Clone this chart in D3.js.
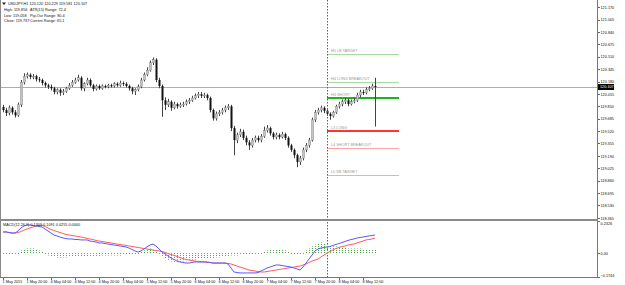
<!DOCTYPE html>
<html>
<head>
<meta charset="utf-8">
<script src="https://cdn.jsdelivr.net/npm/d3@7"></script>
<style>
    body { margin: 0; background: #fff; }
    text { font-family: "Liberation Sans", Arial, sans-serif; }
    .axis path, .axis line { fill: none; stroke: #666; shape-rendering: crispEdges; }
    .axis text { font-size: 3.8px; fill: #111; }
    .lbl { font-size: 3.8px; fill: #111; }
    .lvl { font-size: 3.8px; fill: #999; }
</style>
</head>
<body>
<div id="chart"></div>
<script>
// ---- data ----
var xTickBars = [0, 8, 16, 24, 32, 40, 48, 56, 64, 72, 80, 88, 96, 104, 112, 120];
var xTickLabels = ["1 May 2015", "1 May 20:00", "4 May 04:00", "4 May 12:00", "4 May 20:00",
    "5 May 04:00", "5 May 12:00", "5 May 20:00", "6 May 04:00", "6 May 12:00", "6 May 20:00",
    "7 May 04:00", "7 May 12:00", "7 May 20:00", "8 May 04:00", "8 May 12:00"];
var priceTicks = [121.170, 121.005, 120.840, 120.675, 120.510, 120.345, 120.180, 120.015, 119.850,
    119.685, 119.520, 119.355, 119.190, 119.025, 118.860, 118.695, 118.530, 118.365];
var macdTicks = [0.2326, 0, -0.1744];
var lastPrice = 120.107;
var dayStartBar = 108;
var levelEndBar = 132;

var opens = [119.84,119.80,119.76,119.83,119.77,119.73,119.87,120.17,120.25,120.27,120.24,120.25,120.21,120.20,120.16,120.13,
    120.11,120.09,120.04,120.07,120.03,120.05,120.09,120.13,120.17,120.20,120.23,120.09,120.15,120.20,120.13,120.08,
    120.12,120.09,120.12,120.11,120.13,120.12,120.15,120.13,120.16,120.15,120.12,120.09,120.05,120.07,120.11,120.20,
    120.27,120.33,120.43,120.47,120.20,120.12,119.93,119.87,119.91,119.83,119.88,119.85,119.87,119.88,119.91,119.93,
    119.96,119.99,120.01,119.99,120.00,119.96,119.80,119.69,119.75,119.77,119.80,119.83,119.85,119.56,119.40,119.47,
    119.51,119.43,119.37,119.33,119.40,119.43,119.40,119.45,119.53,119.56,119.49,119.44,119.47,119.44,119.48,119.43,
    119.33,119.27,119.20,119.11,119.16,119.27,119.33,119.40,119.67,119.77,119.80,119.83,119.79,119.75,119.72,119.77,
    119.85,119.88,119.91,119.93,119.88,119.91,119.93,120.00,120.04,120.03,120.07,120.09,120.12];
var highs = [119.87,119.83,119.86,119.85,119.80,119.90,120.20,120.29,120.30,120.29,120.28,120.27,120.24,120.22,120.18,120.15,
    120.14,120.11,120.09,120.09,120.08,120.11,120.16,120.20,120.23,120.27,120.25,120.17,120.23,120.22,120.15,120.14,
    120.14,120.14,120.14,120.15,120.15,120.17,120.17,120.19,120.18,120.17,120.14,120.11,120.09,120.14,120.23,120.30,
    120.37,120.46,120.50,120.49,120.23,120.14,119.97,119.95,119.93,119.91,119.90,119.90,119.91,119.94,119.96,119.99,
    120.02,120.04,120.04,120.03,120.02,119.98,119.82,119.78,119.80,119.83,119.86,119.88,119.87,119.59,119.50,119.55,
    119.54,119.46,119.40,119.43,119.46,119.46,119.48,119.58,119.60,119.58,119.51,119.50,119.49,119.51,119.50,119.45,
    119.35,119.29,119.22,119.19,119.30,119.36,119.43,119.70,119.80,119.83,119.86,119.85,119.81,119.77,119.79,119.87,
    119.91,119.94,119.96,119.95,119.94,119.96,120.03,120.07,120.07,120.10,120.12,120.15,120.23];
var lows = [119.77,119.72,119.73,119.74,119.70,119.71,119.84,120.14,120.22,120.21,120.21,120.18,120.17,120.13,120.10,120.08,
    120.06,120.01,120.01,119.99,120.00,120.03,120.07,120.11,120.15,120.18,120.06,120.05,120.13,120.11,120.05,120.06,
    120.07,120.07,120.09,120.09,120.10,120.10,120.11,120.11,120.12,120.10,120.06,120.01,120.00,120.05,120.09,120.18,
    120.25,120.31,120.40,120.17,120.09,119.71,119.80,119.84,119.79,119.81,119.82,119.83,119.84,119.86,119.88,119.91,
    119.94,119.96,119.96,119.96,119.93,119.77,119.66,119.66,119.72,119.74,119.77,119.80,119.52,119.20,119.36,119.44,
    119.40,119.33,119.27,119.30,119.37,119.37,119.37,119.43,119.50,119.46,119.41,119.41,119.41,119.42,119.40,119.30,
    119.24,119.16,119.04,119.07,119.13,119.24,119.30,119.38,119.64,119.74,119.77,119.76,119.72,119.67,119.70,119.75,
    119.82,119.85,119.88,119.85,119.86,119.89,119.91,119.97,120.00,120.01,120.05,120.07,119.58];
var closes = [119.80,119.76,119.83,119.77,119.73,119.87,120.17,120.25,120.27,120.24,120.25,120.21,120.20,120.16,120.13,120.11,
    120.09,120.04,120.07,120.03,120.05,120.09,120.13,120.17,120.20,120.23,120.09,120.15,120.20,120.13,120.08,120.12,
    120.09,120.12,120.11,120.13,120.12,120.15,120.13,120.16,120.15,120.12,120.09,120.05,120.07,120.11,120.20,120.27,
    120.33,120.43,120.47,120.20,120.12,119.93,119.87,119.91,119.83,119.88,119.85,119.87,119.88,119.91,119.93,119.96,
    119.99,120.01,119.99,120.00,119.96,119.80,119.69,119.75,119.77,119.80,119.83,119.85,119.56,119.40,119.47,119.51,
    119.43,119.37,119.33,119.40,119.43,119.40,119.45,119.53,119.56,119.49,119.44,119.47,119.44,119.48,119.43,119.33,
    119.27,119.20,119.11,119.16,119.27,119.33,119.40,119.67,119.77,119.80,119.83,119.79,119.75,119.72,119.77,119.85,
    119.88,119.91,119.93,119.88,119.91,119.93,120.00,120.04,120.03,120.07,120.09,120.12,120.107];

var levelNames = ["H5 LB TARGET", "H4 LONG BREAKOUT", "H3 SHORT", "L3 LONG", "L4 SHORT BREAKOUT", "L5 SB TARGET"];
var levelValues = [120.540, 120.176, 119.956, 119.518, 119.298, 118.934];

var macdMain = [.153,.153,.149,.145,.145,.160,.182,.196,.204,.204,.200,.196,.193,.189,.175,.160,
    .145,.131,.124,.116,.109,.105,.102,.102,.098,.098,.095,.095,.095,.087,.084,.080,
    .073,.073,.069,.065,.062,.058,.055,.051,.047,.044,.036,.025,.015,.007,.015,.029,
    .044,.058,.065,.051,.029,.007,-.007,-.022,-.036,-.047,-.058,-.065,-.069,-.073,-.073,-.069,
    -.065,-.065,-.065,-.065,-.065,-.069,-.073,-.073,-.073,-.073,-.073,-.080,-.109,-.138,-.142,-.145,
    -.145,-.145,-.145,-.145,-.145,-.142,-.131,-.120,-.109,-.102,-.095,-.087,-.087,-.091,-.095,-.098,
    -.102,-.109,-.116,-.124,-.102,-.073,-.044,-.015,.015,.029,.036,.040,.044,.047,.055,.062,
    .069,.076,.084,.091,.098,.102,.109,.113,.116,.120,.124,.127,.131];
var macdSignal = [.153,.153,.149,.145,.145,.149,.156,.167,.175,.182,.189,.196,.200,.200,.193,.182,
    .171,.164,.156,.149,.142,.135,.131,.127,.124,.120,.116,.113,.105,.102,.098,.091,
    .087,.084,.080,.076,.073,.069,.065,.062,.058,.055,.051,.047,.044,.040,.036,.033,
    .029,.025,.022,.018,.015,.011,.004,-.004,-.011,-.018,-.025,-.033,-.040,-.047,-.051,-.055,
    -.058,-.062,-.065,-.065,-.069,-.069,-.073,-.073,-.073,-.073,-.073,-.076,-.080,-.087,-.095,-.102,
    -.109,-.116,-.124,-.127,-.131,-.135,-.138,-.138,-.135,-.131,-.127,-.124,-.120,-.116,-.113,-.109,
    -.105,-.102,-.098,-.095,-.087,-.080,-.069,-.058,-.051,-.044,-.029,-.015,0,.011,.022,.033,
    .040,.047,.051,.058,.062,.065,.073,.080,.087,.095,.098,.102,.109];
var macdHist = [-.004,-.004,-.004,-.004,-.004,-.004,.015,.022,.029,.029,.029,.022,.015,.007,-.007,-.015,
    -.022,-.025,-.029,-.029,-.029,-.029,-.025,-.025,-.022,-.022,-.022,-.022,-.022,-.018,-.018,-.018,
    -.018,-.015,-.015,-.015,-.015,-.015,-.015,-.015,-.011,-.011,-.011,-.011,-.011,-.007,.007,.015,
    .022,.029,.022,.007,-.007,-.022,-.036,-.051,-.058,-.065,-.065,-.065,-.058,-.058,-.051,-.044,
    -.044,-.036,-.036,-.036,-.036,-.036,-.033,-.029,-.029,-.025,-.022,-.022,-.015,-.015,-.015,-.011,
    -.011,-.007,-.007,-.007,-.004,-.004,-.004,.004,.015,.022,.022,.022,.022,.018,.015,.011,
    -.004,-.004,-.004,-.004,-.004,.015,.029,.044,.058,.065,.073,.065,.058,.051,.044,.044,
    .036,.036,.033,.029,.029,.029,.029,.029,.025,.025,.025,.025,.025];

var legendLeft = ["USDJPY,H1  120.120 120.229 119.581 120.107", "High: 119.856", "Low: 119.058", "Close: 119.737"];
var legendRight = ["", "ATR(15) Range: 72.4", "Pip-Out Range: 80.4", "Current Range: 65.1"];

// ---- layout ----
var W = 625, H = 285;
var plotRight = 597, mainBottom = 219, macdTop = 221, macdBottom = 277;

var svg = d3.select("#chart").append("svg")
    .attr("width", W).attr("height", H)
    .style("display", "block");

var x = d3.scaleLinear().domain([0, 124]).range([3, 375]);
var yMain = d3.scaleLinear().domain([118.350, 121.265]).range([mainBottom, 0]);
var yMacd = d3.scaleLinear().domain([-0.1744, 0.2326]).range([macdBottom, macdTop]);

svg.append("clipPath").attr("id", "clipMain")
    .append("rect").attr("x", 0).attr("y", 0).attr("width", plotRight).attr("height", mainBottom);
var main = svg.append("g").attr("clip-path", "url(#clipMain)");

// current price line
main.append("line")
    .attr("x1", 0).attr("x2", plotRight)
    .attr("y1", Math.round(yMain(lastPrice)) + 0.5).attr("y2", Math.round(yMain(lastPrice)) + 0.5)
    .attr("stroke", "#a6adbd").attr("stroke-width", 1);

// day-start separator
svg.append("line")
    .attr("x1", Math.round(x(dayStartBar)) + 0.5).attr("x2", Math.round(x(dayStartBar)) + 0.5)
    .attr("y1", 0).attr("y2", macdBottom)
    .attr("stroke", "#ff1a1a").attr("stroke-width", 1).attr("stroke-dasharray", "1.5,1.5");

// camarilla levels
var levelStroke = ["#a5dca5", "#a5dca5", "#1cb51c", "#f33", "#ffa8a8", "#ffa8a8"];
var levelWidth = [1, 1, 2, 2, 1, 1];
levelValues.forEach(function (v, i) {
    var yy = Math.round(yMain(v));
    main.append("line")
        .attr("x1", x(dayStartBar)).attr("x2", x(levelEndBar))
        .attr("y1", yy + (levelWidth[i] === 1 ? 0.5 : 0)).attr("y2", yy + (levelWidth[i] === 1 ? 0.5 : 0))
        .attr("stroke", levelStroke[i]).attr("stroke-width", levelWidth[i]);
    main.append("text").attr("class", "lvl")
        .attr("x", x(dayStartBar) + 4).attr("y", yy - 2)
        .text(levelNames[i]);
});

// candles
var bars = d3.range(opens.length);
var cg = main.append("g");
cg.selectAll("line.wick").data(bars).enter().append("line")
    .attr("class", "wick")
    .attr("x1", function (i) { return Math.round(x(i)) + 0.5; })
    .attr("x2", function (i) { return Math.round(x(i)) + 0.5; })
    .attr("y1", function (i) { return yMain(highs[i]); })
    .attr("y2", function (i) { return yMain(lows[i]); })
    .attr("stroke", "#444").attr("stroke-width", 1);
cg.selectAll("rect.body").data(bars).enter().append("rect")
    .attr("class", "body")
    .attr("x", function (i) { return Math.round(x(i)) - 0.5; })
    .attr("width", 2)
    .attr("y", function (i) { return yMain(Math.max(opens[i], closes[i])); })
    .attr("height", function (i) { return Math.max(1, Math.abs(yMain(opens[i]) - yMain(closes[i]))); })
    .attr("fill", function (i) { return closes[i] >= opens[i] ? "#c4c4c4" : "#111"; })
    .attr("stroke", function (i) { return closes[i] >= opens[i] ? "#777" : "none"; })
    .attr("stroke-width", 0.4);

// MACD histogram
var mg = svg.append("g");
mg.selectAll("line.hist").data(bars).enter().append("line")
    .attr("class", "hist")
    .attr("x1", function (i) { return Math.round(x(i)) + 0.5; })
    .attr("x2", function (i) { return Math.round(x(i)) + 0.5; })
    .attr("y1", yMacd(0))
    .attr("y2", function (i) { return yMacd(macdHist[i]) + (macdHist[i] >= 0 ? -0.5 : 0.5); })
    .attr("stroke", function (i) { return macdHist[i] >= 0 ? "#4aa84a" : "#ff5a5a"; })
    .attr("stroke-width", 1)
    .attr("stroke-dasharray", "1,1");

var lineGen = function (arr) {
    return d3.line()
        .x(function (i) { return x(i); })
        .y(function (i) { return yMacd(arr[i]); })(bars);
};
mg.append("path").attr("d", lineGen(macdSignal))
    .attr("fill", "none").attr("stroke", "#ff5c5c").attr("stroke-width", 1);
mg.append("path").attr("d", lineGen(macdMain))
    .attr("fill", "none").attr("stroke", "#5a5aff").attr("stroke-width", 1);

// frame
svg.append("line").attr("x1", 0.5).attr("x2", 0.5).attr("y1", 0).attr("y2", macdBottom)
    .attr("stroke", "#888");
svg.append("line").attr("x1", plotRight + 0.5).attr("x2", plotRight + 0.5).attr("y1", 0).attr("y2", macdBottom)
    .attr("stroke", "#777");
svg.append("rect").attr("x", 0).attr("y", mainBottom).attr("width", plotRight + 1).attr("height", macdTop - mainBottom)
    .attr("fill", "#8a8a8a");
svg.append("line").attr("x1", 0).attr("x2", plotRight + 1).attr("y1", macdBottom + 0.5).attr("y2", macdBottom + 0.5)
    .attr("stroke", "#777");

// price axis
var boxY = yMain(lastPrice);
var visibleTicks = priceTicks.filter(function (v) { return Math.abs(yMain(v) - boxY) > 5; });
var yAxis = d3.axisRight(yMain).tickValues(visibleTicks).tickSize(2).tickPadding(1)
    .tickFormat(d3.format(".3f"));
svg.append("g").attr("class", "axis")
    .attr("transform", "translate(" + (plotRight + 0.5) + ",0)")
    .call(yAxis)
    .call(function (g) { g.select(".domain").remove(); });

svg.append("rect").attr("x", plotRight + 1).attr("y", boxY - 3)
    .attr("width", 16).attr("height", 6).attr("fill", "#000");
svg.append("text").attr("class", "lbl")
    .attr("x", plotRight + 3).attr("y", boxY + 1.4)
    .style("fill", "#fff")
    .text(d3.format(".3f")(lastPrice));

// MACD axis
var mAxis = d3.axisRight(yMacd).tickValues(macdTicks).tickSize(2).tickPadding(1)
    .tickFormat(function (d) { return d === 0 ? "0.00" : d3.format(".4f")(d); });
svg.append("g").attr("class", "axis")
    .attr("transform", "translate(" + (plotRight + 0.5) + ",0)")
    .call(mAxis)
    .call(function (g) {
        g.select(".domain").remove();
        g.selectAll(".tick text").attr("dy", function (d, i) { return i === 0 ? "0.9em" : (i === 2 ? "-0.1em" : "0.32em"); });
    });

// time axis
var xAxis = d3.axisBottom(x).tickValues(xTickBars).tickSize(2).tickPadding(1)
    .tickFormat(function (d, i) { return xTickLabels[i]; });
svg.append("g").attr("class", "axis")
    .attr("transform", "translate(0," + (macdBottom + 0.5) + ")")
    .call(xAxis)
    .call(function (g) {
        g.select(".domain").remove();
        g.selectAll(".tick text").attr("text-anchor", "start").attr("x", -1);
    });

// legends
svg.append("path").attr("d", "M2,2.5 L6,2.5 L4,5 Z").attr("fill", "#222");
legendLeft.forEach(function (t, i) {
    svg.append("text").attr("class", "lbl").attr("x", i === 0 ? 8 : 4).attr("y", 5 + i * 5.8).text(t);
});
legendRight.forEach(function (t, i) {
    svg.append("text").attr("class", "lbl").attr("x", 30).attr("y", 5 + i * 5.8).text(t);
});
svg.append("text").attr("class", "lbl").attr("x", 3).attr("y", macdTop + 5)
    .text("MACD(12,26,9) 0.1309 0.1091 0.0255 0.0000");
</script>
</body>
</html>
